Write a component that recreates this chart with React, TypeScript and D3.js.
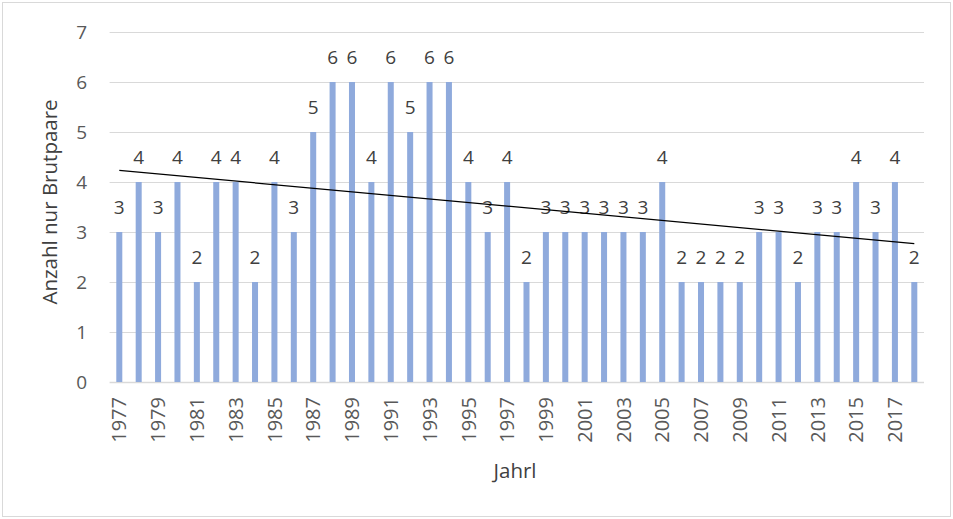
import React from "react";
import * as d3 from "d3";

const years: number[] = [
  1977, 1978, 1979, 1980, 1981, 1982, 1983, 1984, 1985, 1986,
  1987, 1988, 1989, 1990, 1991, 1992, 1993, 1994, 1995, 1996,
  1997, 1998, 1999, 2000, 2001, 2002, 2003, 2004, 2005, 2006,
  2007, 2008, 2009, 2010, 2011, 2012, 2013, 2014, 2015, 2016,
  2017, 2018,
];
const values: number[] = [
  3, 4, 3, 4, 2, 4, 4, 2, 4, 3,
  5, 6, 6, 4, 6, 5, 6, 6, 4, 3,
  4, 2, 3, 3, 3, 3, 3, 3, 4, 2,
  2, 2, 2, 3, 3, 2, 3, 3, 4, 3,
  4, 2,
];
const yTicks: number[] = [0, 1, 2, 3, 4, 5, 6, 7];
const yTitle = "Anzahl nur Brutpaare";
const xTitle = "Jahrl";

const W = 953;
const H = 519;
const FONT = "'Open Sans', sans-serif";
const TEXT = "#595959";

export default function App() {
  const left = 109.6;
  const right = 924;
  const top = 32;
  const bottom = 382;

  const x = d3
    .scaleBand<number>()
    .domain(years)
    .range([left, right])
    .paddingInner(0.69)
    .paddingOuter(0.345);
  const y = d3.scaleLinear().domain([0, 7]).range([bottom, top]);
  const cx = (yr: number) => (x(yr) as number) + x.bandwidth() / 2;

  // linear trend (least squares over index)
  const n = values.length;
  const idx = d3.range(n);
  const mx = d3.mean(idx) as number;
  const my = d3.mean(values) as number;
  const slope =
    d3.sum(idx, (i) => (i - mx) * (values[i] - my)) /
    d3.sum(idx, (i) => (i - mx) * (i - mx));
  const intercept = my - slope * mx;
  const trend = [0, n - 1].map((i) => [cx(years[i]), y(intercept + slope * i)] as [number, number]);
  const line = d3.line();

  return (
    <svg
      width={W}
      height={H}
      style={{ position: "absolute", left: 0, top: 0, background: "#fff" }}
    >
      <rect x={2.5} y={2.5} width={948} height={514} fill="#fff" stroke="#D9D9D9" strokeWidth={1} />
      {yTicks.map((t) => (
        <line
          key={"g" + t}
          x1={left}
          x2={right}
          y1={Math.round(y(t)) + 0.5}
          y2={Math.round(y(t)) + 0.5}
          stroke="#D9D9D9"
          strokeWidth={t === 0 ? 1.5 : 1}
        />
      ))}
      {yTicks.map((t) => (
        <text
          key={"yt" + t}
          x={87}
          y={y(t)}
          dy="0.36em"
          textAnchor="end"
          fontFamily={FONT}
          fontSize={19}
          fill={TEXT}
        >
          {t}
        </text>
      ))}
      {years.map((yr, i) => (
        <rect
          key={"b" + yr}
          x={x(yr)}
          y={y(values[i])}
          width={x.bandwidth()}
          height={y(0) - y(values[i])}
          fill="#8FAADC"
        />
      ))}
      {years.map((yr, i) => (
        <text
          key={"l" + yr}
          x={cx(yr)}
          y={y(values[i]) - 18}
          textAnchor="middle"
          fontFamily={FONT}
          fontSize={19}
          fill="#404040"
        >
          {values[i]}
        </text>
      ))}
      <path d={line(trend) || ""} fill="none" stroke="#000" strokeWidth={1.2} />
      {years
        .filter((_, i) => i % 2 === 0)
        .map((yr) => (
          <text
            key={"xt" + yr}
            transform={`translate(${cx(yr)},397) rotate(-90)`}
            dy="0.36em"
            textAnchor="end"
            fontFamily={FONT}
            fontSize={20}
            fill={TEXT}
          >
            {yr}
          </text>
        ))}
      <text
        transform={`translate(57,202) rotate(-90)`}
        textAnchor="middle"
        fontFamily={FONT}
        fontSize={20.5}
        fill="#404040"
      >
        {yTitle}
      </text>
      <text
        x={515}
        y={478}
        textAnchor="middle"
        fontFamily={FONT}
        fontSize={20.5}
        fill="#404040"
      >
        {xTitle}
      </text>
    </svg>
  );
}
